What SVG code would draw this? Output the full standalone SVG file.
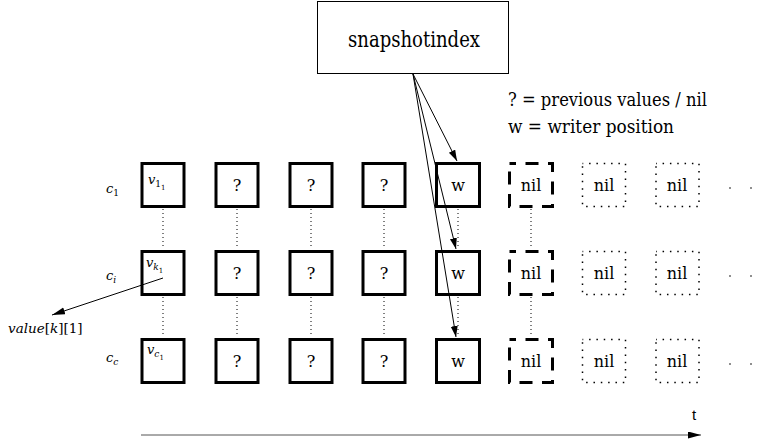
<svg xmlns="http://www.w3.org/2000/svg" width="770" height="445" viewBox="0 0 770 445">
<style>
.bx{fill:#fff;stroke:#000;stroke-width:3}
.dash{fill:#fff;stroke:#000;stroke-width:3;stroke-dasharray:13 9.5;stroke-dashoffset:6.5}
.dot{fill:#fff;stroke:#000;stroke-width:1.5;stroke-dasharray:1.5 5.83;stroke-dashoffset:0.75}
text{font-family:'DejaVu Serif','Liberation Serif',serif}
.t{font-size:16px;text-anchor:middle;fill:#000}
.m{font-style:italic;fill:#000}
.vc{stroke:#000;stroke-width:1;stroke-dasharray:1 3;fill:none}
.ar{stroke:#000;stroke-width:1;fill:none}
.lg{font-size:18px;fill:#000}
.sans{font-family:'Liberation Sans',Arial,sans-serif}
</style>
<defs>
<marker id="ah" markerUnits="userSpaceOnUse" markerWidth="12" markerHeight="8" refX="11" refY="3.5" orient="auto"><path d="M0,0 L11,3.5 L0,7 Z" fill="#000"/></marker>
<marker id="ah2" markerUnits="userSpaceOnUse" markerWidth="14" markerHeight="8" refX="13" refY="3.5" orient="auto"><path d="M0,0 L13,3.5 L0,7 Z" fill="#000"/></marker>
</defs>
<g id="snapshotindex">
<rect x="317.5" y="1.5" width="191" height="72" fill="#fff" stroke="#000" stroke-width="1"/>
<text x="348" y="47" style="font-size:22px" textLength="132" lengthAdjust="spacingAndGlyphs">snapshotindex</text>
</g>

<g id="legend">
<text x="508" y="106" class="lg" textLength="199" lengthAdjust="spacingAndGlyphs">? = previous values / nil</text>
<text x="508" y="133" class="lg" textLength="166" lengthAdjust="spacingAndGlyphs">w = writer position</text>
</g>

<g id="labels">
<text x="106" y="193" class="m" font-size="13">c<tspan font-size="9" dy="3" font-style="normal">1</tspan></text>
<text x="106" y="280" class="m" font-size="13">c<tspan font-size="9" dy="3">i</tspan></text>
<text x="106" y="362" class="m" font-size="13">c<tspan font-size="9" dy="3">c</tspan></text>
<text x="8" y="333" class="m" font-size="13.5">value<tspan font-style="normal">[</tspan>k<tspan font-style="normal">][1]</tspan></text>
<text x="692" y="420" class="sans" font-size="15">t</text>
</g>

<g id="connectors">
<line class="vc" x1="163" y1="209" x2="163" y2="249"/>
<line class="vc" x1="163" y1="297" x2="163" y2="337"/>
<line class="vc" x1="237" y1="209" x2="237" y2="249"/>
<line class="vc" x1="237" y1="297" x2="237" y2="337"/>
<line class="vc" x1="311" y1="209" x2="311" y2="249"/>
<line class="vc" x1="311" y1="297" x2="311" y2="337"/>
<line class="vc" x1="384" y1="209" x2="384" y2="249"/>
<line class="vc" x1="384" y1="297" x2="384" y2="337"/>
<line class="vc" x1="458" y1="209" x2="458" y2="249"/>
<line class="vc" x1="458" y1="297" x2="458" y2="337"/>
<line class="vc" x1="531" y1="209" x2="531" y2="249"/>
<line class="vc" x1="531" y1="297" x2="531" y2="337"/>
</g>

<g id="col1">
<g id="n-1-1"><rect class="bx" x="142" y="163.5" width="42" height="43"/><text class="m" x="148" y="184" font-size="13">v<tspan font-size="9" dy="3" font-style="normal">1</tspan><tspan font-size="7" dy="3" font-style="normal">1</tspan></text></g>
<g id="n-i-1"><rect class="bx" x="142" y="251.5" width="42" height="43"/><text class="m" x="146" y="267" font-size="13">v<tspan font-size="9" dy="3">k</tspan><tspan font-size="7" dy="3" font-style="normal">1</tspan></text></g>
<g id="n-c-1"><rect class="bx" x="142" y="339.5" width="42" height="43"/><text class="m" x="147" y="354" font-size="13">v<tspan font-size="9" dy="3">c</tspan><tspan font-size="7" dy="3" font-style="normal">1</tspan></text></g>
</g>

<g id="col2">
<g id="n-1-2"><rect class="bx" x="216" y="163.5" width="42" height="43"/><text class="t" x="237" y="191">?</text></g>
<g id="n-i-2"><rect class="bx" x="216" y="251.5" width="42" height="43"/><text class="t" x="237" y="279">?</text></g>
<g id="n-c-2"><rect class="bx" x="216" y="339.5" width="42" height="43"/><text class="t" x="237" y="367">?</text></g>
</g>
<g id="col3">
<g id="n-1-3"><rect class="bx" x="290" y="163.5" width="42" height="43"/><text class="t" x="311" y="191">?</text></g>
<g id="n-i-3"><rect class="bx" x="290" y="251.5" width="42" height="43"/><text class="t" x="311" y="279">?</text></g>
<g id="n-c-3"><rect class="bx" x="290" y="339.5" width="42" height="43"/><text class="t" x="311" y="367">?</text></g>
</g>
<g id="col4">
<g id="n-1-4"><rect class="bx" x="363" y="163.5" width="42" height="43"/><text class="t" x="384" y="191">?</text></g>
<g id="n-i-4"><rect class="bx" x="363" y="251.5" width="42" height="43"/><text class="t" x="384" y="279">?</text></g>
<g id="n-c-4"><rect class="bx" x="363" y="339.5" width="42" height="43"/><text class="t" x="384" y="367">?</text></g>
</g>
<g id="col5">
<g id="n-1-5"><rect class="bx" x="436.5" y="163.5" width="43" height="43"/><text class="t" x="458" y="191">w</text></g>
<g id="n-i-5"><rect class="bx" x="436.5" y="251.5" width="43" height="43"/><text class="t" x="458" y="279">w</text></g>
<g id="n-c-5"><rect class="bx" x="436.5" y="339.5" width="43" height="43"/><text class="t" x="458" y="367">w</text></g>
</g>
<g id="col6">
<g id="n-1-6"><rect class="dash" x="509.5" y="163.5" width="43" height="43"/><text class="t" x="531" y="191" font-size="17">nil</text></g>
<g id="n-i-6"><rect class="dash" x="509.5" y="251.5" width="43" height="43"/><text class="t" x="531" y="279" font-size="17">nil</text></g>
<g id="n-c-6"><rect class="dash" x="509.5" y="339.5" width="43" height="43"/><text class="t" x="531" y="367" font-size="17">nil</text></g>
</g>
<g id="col7">
<g id="n-1-7"><rect class="dot" x="582.5" y="163.5" width="43" height="43"/><text class="t" x="604" y="191" font-size="17">nil</text></g>
<g id="n-i-7"><rect class="dot" x="582.5" y="251.5" width="43" height="43"/><text class="t" x="604" y="279" font-size="17">nil</text></g>
<g id="n-c-7"><rect class="dot" x="582.5" y="339.5" width="43" height="43"/><text class="t" x="604" y="367" font-size="17">nil</text></g>
</g>
<g id="col8">
<g id="n-1-8"><rect class="dot" x="656" y="163.5" width="43" height="43"/><text class="t" x="677" y="191" font-size="17">nil</text></g>
<g id="n-i-8"><rect class="dot" x="656" y="251.5" width="43" height="43"/><text class="t" x="677" y="279" font-size="17">nil</text></g>
<g id="n-c-8"><rect class="dot" x="656" y="339.5" width="43" height="43"/><text class="t" x="677" y="367" font-size="17">nil</text></g>
</g>
<g id="ellipses" fill="#000">
<circle cx="730" cy="188" r="0.8"/><circle cx="751" cy="188" r="0.8"/>
<circle cx="730" cy="276" r="0.8"/><circle cx="751" cy="276" r="0.8"/>
<circle cx="730" cy="364" r="0.8"/><circle cx="751" cy="364" r="0.8"/>
</g>

<g id="arrows">
<line class="ar" x1="413" y1="74" x2="457" y2="161" marker-end="url(#ah)"/>
<line class="ar" x1="413" y1="74" x2="456" y2="249" marker-end="url(#ah)"/>
<line class="ar" x1="413" y1="74" x2="456" y2="337" marker-end="url(#ah)"/>
<line class="ar" x1="163" y1="278" x2="52" y2="315" marker-end="url(#ah2)"/>
<line x1="141" y1="435" x2="701" y2="435" stroke="#555" stroke-width="1" marker-end="url(#ah2)"/>
</g>
</svg>
